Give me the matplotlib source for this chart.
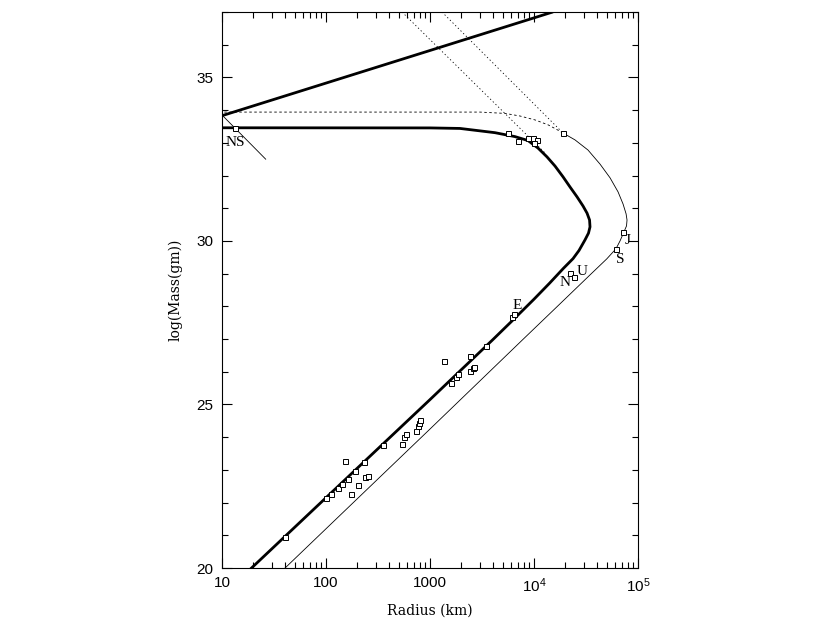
import matplotlib
matplotlib.use("Agg")
import matplotlib.pyplot as plt
from matplotlib.ticker import FixedLocator, FixedFormatter, MultipleLocator

plt.rcParams['mathtext.fontset'] = 'custom'
plt.rcParams['mathtext.rm'] = 'Liberation Sans'

# cold-body mass-radius curve (thick), radius in km, log mass in g
cold_r = [17.0, 100, 1000, 1995, 3981, 6310, 10000, 14125, 19140, 23730, 27090,
          30900, 33410, 34540, 34200, 32350, 29580, 25900, 22190, 19010, 15920,
          13330, 10920, 8750, 6561, 4217, 1941, 1000, 10]
cold_m = [19.84, 22.15, 25.15, 26.06, 26.97, 27.59, 28.22, 28.71, 29.16, 29.46, 29.71,
          30.03, 30.24, 30.43, 30.64, 30.85, 31.07, 31.35, 31.65, 31.96, 32.29,
          32.57, 32.84, 33.07, 33.19, 33.31, 33.44, 33.456, 33.46]

# second mass-radius curve (thin solid part)
warm_r = [40.4, 1000, 3780, 7890, 16520, 34510, 50000, 61380, 67140, 73290,
          77520, 78400, 76760, 71780, 64270, 53830, 43110, 33030, 24770, 19010]
warm_m = [20.0, 24.25, 26.02, 27.0, 27.98, 28.96, 29.45, 29.76, 30.00, 30.28,
          30.46, 30.64, 30.83, 31.13, 31.50, 31.93, 32.35, 32.78, 33.09, 33.30]

# its dashed continuation up to the limiting mass
limit_r = [19010, 16290, 13650, 10230, 7330, 5260, 3027, 10]
limit_m = [33.30, 33.42, 33.55, 33.70, 33.82, 33.90, 33.94, 33.94]

# Schwarzschild line
bh_r = [10, 14790]
bh_m = [33.83, 36.99]

# neutron star branch
ns_r = [10, 26.3]
ns_m = [33.85, 32.5]

# dotted diagonals
diag1_r = [538, 12760]
diag1_m = [37.0, 32.69]
diag2_r = [1303, 19140]
diag2_m = [37.0, 33.29]

# observed bodies
obj_r = [40.4, 100, 111.7, 131, 142.6, 161.7, 191.6, 151.4, 231.7, 355.6,
         172.8, 201.8, 237, 255, 538, 562, 592, 733, 762, 778, 807,
         1365, 2426, 3435, 1581, 1778, 1845, 2426, 2608, 2667,
         6180, 6457, 22180, 24250, 61400, 71770,
         5660, 7070, 8810, 9840, 10620, 9900, 19140, 13.4]
obj_m = [20.94, 22.15, 22.27, 22.45, 22.58, 22.73, 22.98, 23.27, 23.23, 23.75,
         22.27, 22.54, 22.78, 22.81, 23.78, 24.02, 24.09, 24.18, 24.35, 24.44, 24.53,
         26.32, 26.49, 26.80, 25.66, 25.85, 25.92, 26.02, 26.13, 26.16,
         27.67, 27.76, 29.01, 28.91, 29.76, 30.28,
         33.29, 33.07, 33.16, 33.16, 33.08, 33.00, 33.30, 33.45]

labels = ["NS", "E", "N", "U", "J", "S"]
label_r = [13.5, 6820, 19860, 28770, 79600, 67100]
label_m = [33.0, 28.04, 28.72, 29.06, 30.0, 29.42]

fig = plt.figure(figsize=(8.3, 6.22), dpi=100)
ax = fig.add_axes([0.2675, 0.0868, 0.5012, 0.8939])

ax.plot(cold_r, cold_m, color='black', lw=2.0, solid_joinstyle='round')
ax.plot(bh_r, bh_m, color='black', lw=2.0)
ax.plot(warm_r, warm_m, color='black', lw=0.6)
ax.plot(ns_r, ns_m, color='black', lw=0.6)
ax.plot(limit_r, limit_m, color='black', lw=0.6, linestyle=(0, (3, 3)))
ax.plot(diag1_r, diag1_m, color='black', lw=0.6, linestyle=(0, (1.5, 3)))
ax.plot(diag2_r, diag2_m, color='black', lw=0.6, linestyle=(0, (1.5, 3)))
ax.plot(obj_r, obj_m, linestyle='none', marker='s', markersize=3.6,
        markerfacecolor='white', markeredgecolor='black', markeredgewidth=0.7)

for txt, r, m in zip(labels, label_r, label_m):
    ax.text(r, m, txt, family='Liberation Serif', fontsize=11,
            ha='center', va='center')

ax.set_xscale('log')
ax.set_xlim(10, 1e5)
ax.set_ylim(20, 37)

ax.xaxis.set_major_locator(FixedLocator([10, 100, 1000, 1e4, 1e5]))
ax.xaxis.set_major_formatter(FixedFormatter(['10', '100', '1000',
                                             r'$\mathregular{10^4}$',
                                             r'$\mathregular{10^5}$']))
ax.yaxis.set_major_locator(MultipleLocator(5))
ax.yaxis.set_minor_locator(MultipleLocator(1))

ax.tick_params(which='both', direction='in', top=True, right=True, width=0.8)
ax.tick_params(which='major', length=7, labelsize=11, pad=6)
ax.tick_params(which='minor', length=4)
for lab in ax.get_xticklabels() + ax.get_yticklabels():
    lab.set_family('Liberation Sans')

for s in ax.spines.values():
    s.set_linewidth(0.8)

ax.set_xlabel('Radius (km)', family='DejaVu Serif', fontsize=10, labelpad=6)
ax.set_ylabel('log(Mass(gm))', family='DejaVu Serif', fontsize=10, labelpad=10)

fig.savefig('out.png', dpi=100)
